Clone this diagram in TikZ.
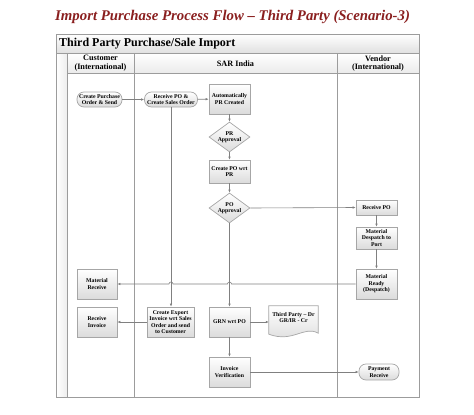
\documentclass[tikz,border=0pt]{standalone}
\usepackage{fontspec}
\setmainfont{Liberation Serif}
\usetikzlibrary{shapes.geometric,arrows.meta,calc}
\definecolor{titlered}{HTML}{8A1F1F}
\definecolor{framegray}{HTML}{9C9C9C}
\definecolor{linegray}{HTML}{808080}
\definecolor{boxgray}{HTML}{A6A6A6}
\newcommand{\nfont}{\fontsize{5.8}{6.4}\selectfont\bfseries}
\begin{document}
\begin{tikzpicture}[x=1pt,y=-1pt,
  frame/.style={draw=framegray,line width=0.9pt},
  proc/.style={rectangle,draw=boxgray,line width=0.7pt,top color=white,bottom color=black!14,
    minimum width=41pt,minimum height=30pt,align=center,font=\nfont,inner sep=1pt},
  term/.style={rectangle,rounded corners=7pt,draw=boxgray,line width=0.7pt,top color=white,bottom color=black!14,
    minimum height=15pt,align=center,font=\nfont,inner sep=1pt},
  dec/.style={diamond,aspect=1.37,draw=boxgray,line width=0.7pt,top color=white,bottom color=black!14,
    minimum width=41pt,minimum height=30pt,align=center,font=\nfont,inner sep=0pt},
  conn/.style={draw=linegray,line width=0.6pt,-{Latex[length=3pt,width=2.6pt]}},
  lanehead/.style={font=\fontsize{8.2}{8.8}\selectfont\bfseries,align=center,inner sep=0pt}
]
\useasboundingbox (0,0) rectangle (474,415);

% title
\node[anchor=west,inner sep=0pt,text=titlered,font=\fontsize{14.8}{17}\selectfont\bfseries\itshape] (title) at (55,17)
  {Import Purchase Process Flow – Third Party (Scenario-3)};

% pool frame
\shade[top color=white,bottom color=black!12] (56.5,34) rectangle (419,53);
\shade[top color=white,bottom color=black!8] (67,53) rectangle (419,73);
\shade[left color=white,right color=black!7] (56.5,53) rectangle (67,397);
\draw[frame] (56.5,34) rectangle (419,397);
\draw[frame] (56.5,53) -- (419,53);
\draw[frame] (67,73) -- (419,73);
\draw[frame] (67,53) -- (67,397);
\draw[frame] (134,53) -- (134,397);
\draw[frame] (337,53) -- (337,397);

\node[anchor=west,inner sep=0pt,font=\fontsize{12}{13}\selectfont\bfseries] (pooltitle) at (59,43.5)
  {Third Party Purchase/Sale Import};
\node[lanehead] (hcust) at (100.5,63.5) {Customer\\(International)};
\node[lanehead] (hsar) at (235.5,63.5) {SAR India};
\node[lanehead] (hvend) at (378,63.5) {Vendor\\(International)};

% nodes
\node[term,minimum width=45pt] (cpo) at (99.5,99.5) {Create Purchase\\Order \& Send};
\node[term,minimum width=53pt] (rpo) at (171,99.5) {Receive PO \&\\Create Sales Order};
\node[proc] (apr) at (229.5,99) {Automatically\\PR Created};
\node[dec] (prapp) at (229.5,137) {PR\\Approval};
\node[proc,minimum height=23pt] (cpowrt) at (229.5,171.5) {Create PO wrt\\PR};
\node[dec] (poapp) at (229.5,208) {PO\\Approval};
\node[proc,minimum height=15pt] (vrpo) at (376.5,207.5) {Receive PO};
\node[proc,minimum height=22pt] (mdp) at (376.5,238) {Material\\Despatch to\\Port};
\node[proc] (mready) at (376.5,284) {Material\\Ready\\(Despatch)};
\node[proc,minimum width=40pt] (mrecv) at (97,284) {Material\\Receive};
\node[proc,minimum width=40pt] (rinv) at (97,322) {Receive\\Invoice};
\node[proc,minimum width=47pt] (cexp) at (170.5,322) {Create Export\\Invoice wrt Sales\\Order and send\\to Customer};
\node[proc] (grn) at (229.5,322) {GRN wrt PO};
\node[proc] (iv) at (229.5,372) {Invoice\\Verification};
\node[term,minimum width=40pt,minimum height=16pt] (pay) at (379,372) {Payment\\Receive};

% document shape
\node[rectangle,minimum width=49pt,minimum height=23pt,inner sep=1pt,align=center,font=\nfont] (tp) at (293.5,317.5) {};
\shade[top color=white,bottom color=black!14]
  (tp.north west) -- (tp.north east) -- ($(tp.south east)+(0,4)$)
  .. controls ($(tp.south east)+(-14,-4)$) and ($(tp.south west)+(24,14)$) .. ($(tp.south west)+(0,5)$) -- cycle;
\draw[draw=boxgray,line width=0.7pt]
  (tp.north west) -- (tp.north east) -- ($(tp.south east)+(0,4)$)
  .. controls ($(tp.south east)+(-14,-4)$) and ($(tp.south west)+(24,14)$) .. ($(tp.south west)+(0,5)$) -- cycle;
\node[align=center,font=\nfont,inner sep=0pt] (tptext) at (tp.center) {Third Party – Dr\\GR/IR - Cr};

% connectors
\draw[conn] (cpo) -- (rpo);
\draw[conn] (rpo) -- (apr);
\draw[conn] (apr) -- (prapp);
\draw[conn] (prapp) -- (cpowrt);
\draw[conn] (cpowrt) -- (poapp);
\draw[conn] (poapp.east) -- (vrpo.west);
\draw[conn] (vrpo) -- (mdp);
\draw[conn] (mdp) -- (mready);
\draw[conn] (rpo.south) -- (rpo.south |- cexp.north);
\draw[conn] (poapp.south) -- (grn.north);
\draw[conn] (mready.west)
  -- ($(grn.north |- mready.west)+(2,0)$) arc[start angle=0,end angle=-180,radius=2]
  -- ($(rpo.south |- mready.west)+(2,0)$) arc[start angle=0,end angle=-180,radius=2]
  -- (mrecv.east);
\draw[conn] (cexp) -- (rinv);
\draw[conn] (grn.east) -- (grn.east -| tp.west);
\draw[conn] (grn) -- (iv);
\draw[conn] (iv.east) -- (iv.east -| pay.west);
\end{tikzpicture}
\end{document}
